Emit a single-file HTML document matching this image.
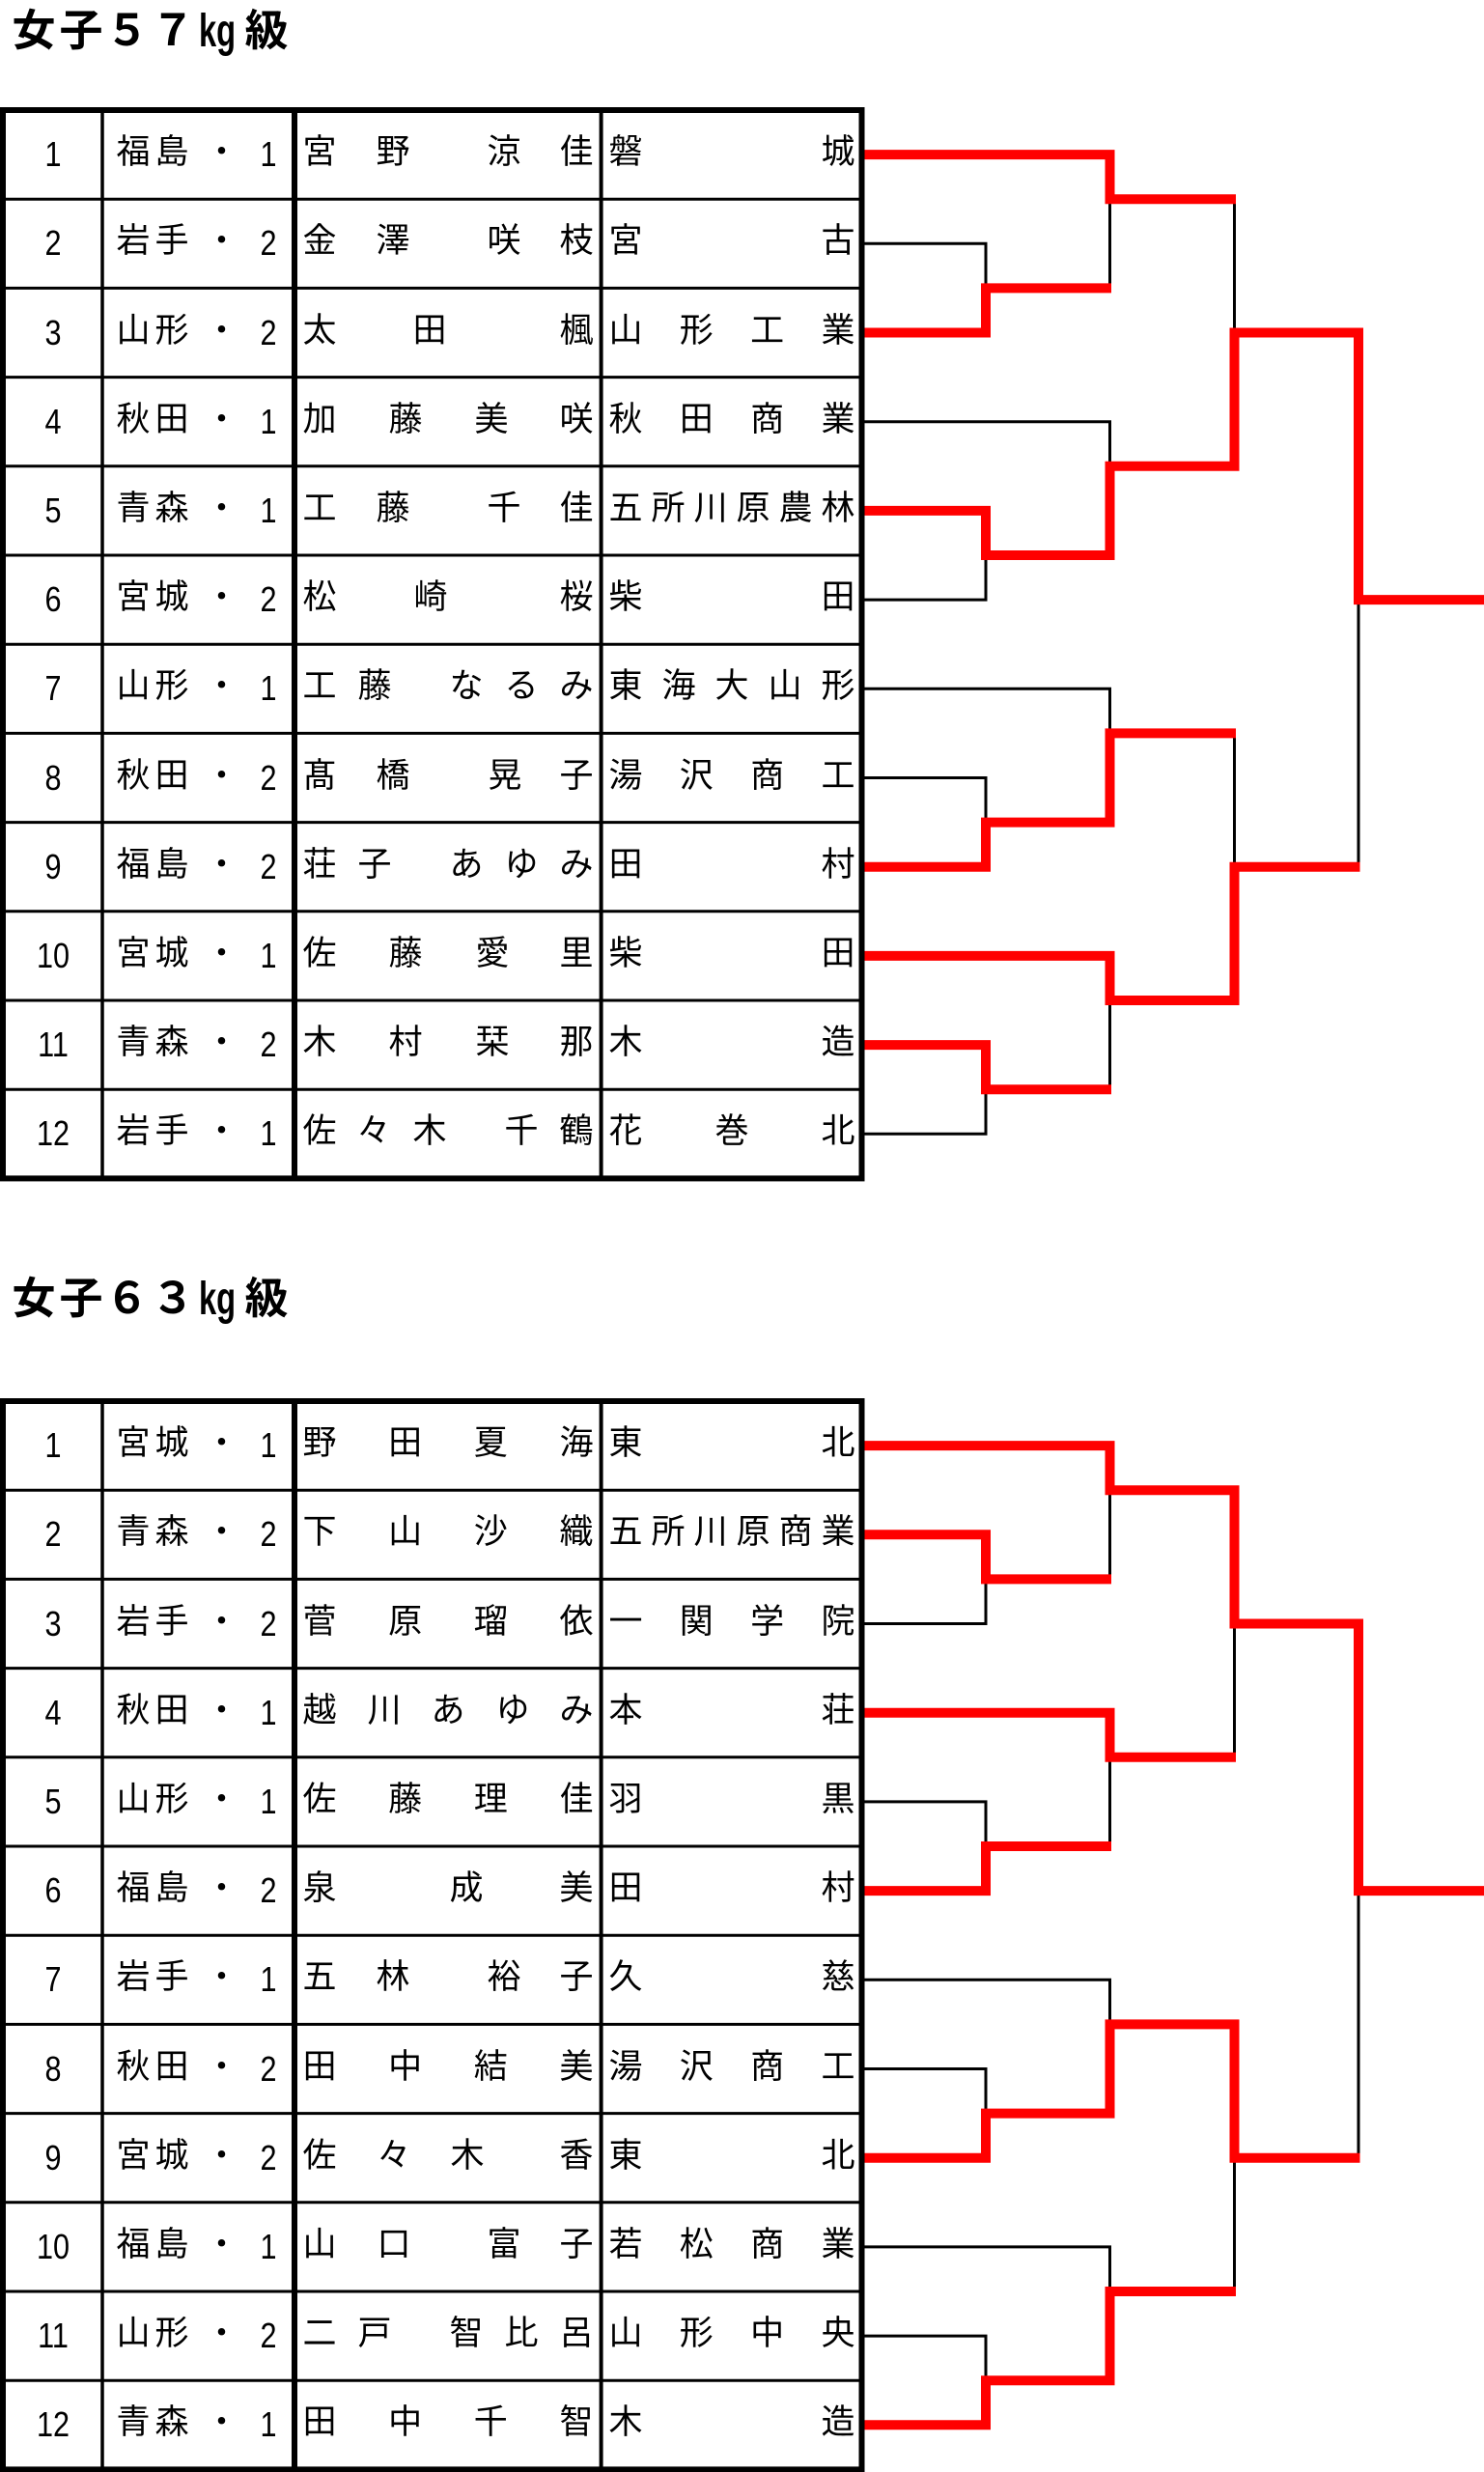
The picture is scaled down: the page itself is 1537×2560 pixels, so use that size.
<!DOCTYPE html>
<html><head><meta charset="utf-8">
<style>
html,body{margin:0;padding:0;background:#fff}
body{width:1537px;height:2560px;position:relative;overflow:hidden}
svg{position:absolute;left:0;top:0}
.r{position:absolute;left:0;width:900px;height:44px}
.r span{position:absolute;top:-2px;width:50px;margin-left:-25px;text-align:center;font-size:35px;line-height:44px;font-family:"Liberation Sans","Noto Sans CJK JP",sans-serif;color:#000}
.r span.n{top:0;font-size:36px;width:60px;margin-left:-30px;font-family:"Liberation Sans",sans-serif;transform:scaleX(.85)}
.t{position:absolute;width:60px;margin-left:-30px;text-align:center;font-size:45px;line-height:50px;font-weight:bold;font-family:"Liberation Sans","Noto Sans CJK JP",sans-serif;color:#000}
.kg{position:absolute;font-size:48px;line-height:50px;font-weight:bold;font-family:"Liberation Sans",sans-serif;color:#000;transform:scaleX(.68);transform-origin:0 0;white-space:nowrap}
</style></head><body>

<svg width="1537" height="2560" viewBox="0 0 1537 2560">
<!-- Bracket 1 -->
<g transform="translate(0,114)" fill="none" stroke-linejoin="miter" stroke-linecap="butt">
 <g stroke="#000" stroke-width="3">
  <path d="M893 138.3H1021V184.4"/>
  <path d="M1149.5 92.2V184.4"/>
  <path d="M893 322.7H1149.5V368.8"/>
  <path d="M893 507.1H1021V461"/>
  <path d="M1278.5 92.2V230.5"/>
  <path d="M1407 507.1V783.7"/>
  <path d="M893 599.3H1149.5V645.4"/>
  <path d="M893 691.5H1021V737.6"/>
  <path d="M1278.5 645.4V783.7"/>
  <path d="M1149.5 922V1014.2"/>
  <path d="M893 1060.3H1021V1014.2"/>
 </g>
 <g stroke="#ff0000" stroke-width="10">
  <path d="M895 46.1H1149.5V92.2H1280"/>
  <path d="M895 230.5H1021V184.4H1151"/>
  <path d="M895 414.9H1021V461H1149.5V368.8H1278.5V230.5H1407V507.1H1537"/>
  <path d="M895 783.7H1021V737.6H1149.5V645.4H1280"/>
  <path d="M895 875.9H1149.5V922H1278.5V783.7H1408.5"/>
  <path d="M895 968.1H1021V1014.2H1151"/>
 </g>
</g>
<!-- Bracket 2 -->
<g transform="translate(0,1451)" fill="none" stroke-linejoin="miter" stroke-linecap="butt">
 <g stroke="#000" stroke-width="3">
  <path d="M893 230.5H1021V184.4"/>
  <path d="M1149.5 92.2V184.4"/>
  <path d="M893 414.9H1021V461"/>
  <path d="M1149.5 368.8V461"/>
  <path d="M1278.5 230.5V368.8"/>
  <path d="M1407 507.1V783.7"/>
  <path d="M893 599.3H1149.5V645.4"/>
  <path d="M893 691.5H1021V737.6"/>
  <path d="M1278.5 783.7V922"/>
  <path d="M893 875.9H1149.5V922"/>
  <path d="M893 968.1H1021V1014.2"/>
 </g>
 <g stroke="#ff0000" stroke-width="10">
  <path d="M895 46.1H1149.5V92.2H1278.5V230.5H1407V507.1H1537"/>
  <path d="M895 138.3H1021V184.4H1151"/>
  <path d="M895 322.7H1149.5V368.8H1280"/>
  <path d="M895 507.1H1021V461H1151"/>
  <path d="M895 783.7H1021V737.6H1149.5V645.4H1278.5V783.7H1408.5"/>
  <path d="M895 1060.3H1021V1014.2H1149.5V922H1280"/>
 </g>
</g>
<!-- Table 1 -->
<g transform="translate(0,114)" fill="none" stroke="#000">
 <g stroke-width="3">
  <path d="M3 92.2H892M3 184.4H892M3 276.6H892M3 368.8H892M3 461H892M3 553.2H892M3 645.4H892M3 737.6H892M3 829.8H892M3 922H892M3 1014.2H892"/>
 </g>
 <path d="M106 0V1106.4" stroke-width="3.5"/>
 <path d="M622.6 0V1106.4" stroke-width="4"/>
 <path d="M305 0V1106.4" stroke-width="6"/>
 <rect x="3" y="0" width="889.5" height="1106.4" stroke-width="6"/>
</g>
<!-- Table 2 -->
<g transform="translate(0,1451)" fill="none" stroke="#000">
 <g stroke-width="3">
  <path d="M3 92.2H892M3 184.4H892M3 276.6H892M3 368.8H892M3 461H892M3 553.2H892M3 645.4H892M3 737.6H892M3 829.8H892M3 922H892M3 1014.2H892"/>
 </g>
 <path d="M106 0V1106.4" stroke-width="3.5"/>
 <path d="M622.6 0V1106.4" stroke-width="4"/>
 <path d="M305 0V1106.4" stroke-width="6"/>
 <rect x="3" y="0" width="889.5" height="1106.4" stroke-width="6"/>
</g>
</svg>

<!-- Titles -->
<span class="t" style="left:35px;top:6.5px">女</span>
<span class="t" style="left:84px;top:6.5px">子</span>
<span class="t" style="left:131.5px;top:6.5px">５</span>
<span class="t" style="left:179px;top:6.5px">７</span>
<span class="kg" style="left:206px;top:8.4px">kg</span>
<span class="t" style="left:276px;top:6.5px">級</span>

<span class="t" style="left:35px;top:1319.5px">女</span>
<span class="t" style="left:84px;top:1319.5px">子</span>
<span class="t" style="left:131.5px;top:1319.5px">６</span>
<span class="t" style="left:179px;top:1319.5px">３</span>
<span class="kg" style="left:206px;top:1321.4px">kg</span>
<span class="t" style="left:276px;top:1319.5px">級</span>

<!-- Table 1 rows -->
<div class="r" style="top:138px"><span class="n" style="left:55px">1</span><span style="left:138px">福</span><span style="left:178px">島</span><span style="left:229.5px">・</span><span class="n" style="left:277.5px">1</span><span style="left:331px">宮</span><span style="left:407px">野</span><span style="left:522px">涼</span><span style="left:597px">佳</span><span style="left:648px">磐</span><span style="left:868px">城</span></div>
<div class="r" style="top:230px"><span class="n" style="left:55px">2</span><span style="left:138px">岩</span><span style="left:178px">手</span><span style="left:229.5px">・</span><span class="n" style="left:277.5px">2</span><span style="left:331px">金</span><span style="left:407px">澤</span><span style="left:522px">咲</span><span style="left:597px">枝</span><span style="left:648px">宮</span><span style="left:868px">古</span></div>
<div class="r" style="top:323px"><span class="n" style="left:55px">3</span><span style="left:138px">山</span><span style="left:178px">形</span><span style="left:229.5px">・</span><span class="n" style="left:277.5px">2</span><span style="left:331px">太</span><span style="left:445px">田</span><span style="left:597px">楓</span><span style="left:648px">山</span><span style="left:721.3px">形</span><span style="left:794.7px">工</span><span style="left:868px">業</span></div>
<div class="r" style="top:415px"><span class="n" style="left:55px">4</span><span style="left:138px">秋</span><span style="left:178px">田</span><span style="left:229.5px">・</span><span class="n" style="left:277.5px">1</span><span style="left:331px">加</span><span style="left:420px">藤</span><span style="left:509px">美</span><span style="left:597px">咲</span><span style="left:648px">秋</span><span style="left:721.3px">田</span><span style="left:794.7px">商</span><span style="left:868px">業</span></div>
<div class="r" style="top:507px"><span class="n" style="left:55px">5</span><span style="left:138px">青</span><span style="left:178px">森</span><span style="left:229.5px">・</span><span class="n" style="left:277.5px">1</span><span style="left:331px">工</span><span style="left:407px">藤</span><span style="left:522px">千</span><span style="left:597px">佳</span><span style="left:648px">五</span><span style="left:692px">所</span><span style="left:736px">川</span><span style="left:780px">原</span><span style="left:824px">農</span><span style="left:868px">林</span></div>
<div class="r" style="top:599px"><span class="n" style="left:55px">6</span><span style="left:138px">宮</span><span style="left:178px">城</span><span style="left:229.5px">・</span><span class="n" style="left:277.5px">2</span><span style="left:331px">松</span><span style="left:446px">崎</span><span style="left:597px">桜</span><span style="left:648px">柴</span><span style="left:868px">田</span></div>
<div class="r" style="top:691px"><span class="n" style="left:55px">7</span><span style="left:138px">山</span><span style="left:178px">形</span><span style="left:229.5px">・</span><span class="n" style="left:277.5px">1</span><span style="left:331px">工</span><span style="left:388px">藤</span><span style="left:483px">な</span><span style="left:540px">る</span><span style="left:597px">み</span><span style="left:648px">東</span><span style="left:703px">海</span><span style="left:758px">大</span><span style="left:813px">山</span><span style="left:868px">形</span></div>
<div class="r" style="top:784px"><span class="n" style="left:55px">8</span><span style="left:138px">秋</span><span style="left:178px">田</span><span style="left:229.5px">・</span><span class="n" style="left:277.5px">2</span><span style="left:331px">髙</span><span style="left:407px">橋</span><span style="left:523px">晃</span><span style="left:597px">子</span><span style="left:648px">湯</span><span style="left:721.3px">沢</span><span style="left:794.7px">商</span><span style="left:868px">工</span></div>
<div class="r" style="top:876px"><span class="n" style="left:55px">9</span><span style="left:138px">福</span><span style="left:178px">島</span><span style="left:229.5px">・</span><span class="n" style="left:277.5px">2</span><span style="left:331px">荘</span><span style="left:388px">子</span><span style="left:483px">あ</span><span style="left:540px">ゆ</span><span style="left:597px">み</span><span style="left:648px">田</span><span style="left:868px">村</span></div>
<div class="r" style="top:968px"><span class="n" style="left:55px">10</span><span style="left:138px">宮</span><span style="left:178px">城</span><span style="left:229.5px">・</span><span class="n" style="left:277.5px">1</span><span style="left:331px">佐</span><span style="left:420px">藤</span><span style="left:510px">愛</span><span style="left:597px">里</span><span style="left:648px">柴</span><span style="left:868px">田</span></div>
<div class="r" style="top:1060px"><span class="n" style="left:55px">11</span><span style="left:138px">青</span><span style="left:178px">森</span><span style="left:229.5px">・</span><span class="n" style="left:277.5px">2</span><span style="left:331px">木</span><span style="left:420px">村</span><span style="left:510px">栞</span><span style="left:597px">那</span><span style="left:648px">木</span><span style="left:868px">造</span></div>
<div class="r" style="top:1152px"><span class="n" style="left:55px">12</span><span style="left:138px">岩</span><span style="left:178px">手</span><span style="left:229.5px">・</span><span class="n" style="left:277.5px">1</span><span style="left:331px">佐</span><span style="left:387px">々</span><span style="left:445px">木</span><span style="left:540px">千</span><span style="left:597px">鶴</span><span style="left:648px">花</span><span style="left:758px">巻</span><span style="left:868px">北</span></div>

<!-- Table 2 rows -->
<div class="r" style="top:1475px"><span class="n" style="left:55px">1</span><span style="left:138px">宮</span><span style="left:178px">城</span><span style="left:229.5px">・</span><span class="n" style="left:277.5px">1</span><span style="left:331px">野</span><span style="left:419.7px">田</span><span style="left:508.3px">夏</span><span style="left:597px">海</span><span style="left:648px">東</span><span style="left:868px">北</span></div>
<div class="r" style="top:1567px"><span class="n" style="left:55px">2</span><span style="left:138px">青</span><span style="left:178px">森</span><span style="left:229.5px">・</span><span class="n" style="left:277.5px">2</span><span style="left:331px">下</span><span style="left:419.7px">山</span><span style="left:508.3px">沙</span><span style="left:597px">織</span><span style="left:648px">五</span><span style="left:692px">所</span><span style="left:736px">川</span><span style="left:780px">原</span><span style="left:824px">商</span><span style="left:868px">業</span></div>
<div class="r" style="top:1660px"><span class="n" style="left:55px">3</span><span style="left:138px">岩</span><span style="left:178px">手</span><span style="left:229.5px">・</span><span class="n" style="left:277.5px">2</span><span style="left:331px">菅</span><span style="left:419.7px">原</span><span style="left:508.3px">瑠</span><span style="left:597px">依</span><span style="left:648px">一</span><span style="left:721.3px">関</span><span style="left:794.7px">学</span><span style="left:868px">院</span></div>
<div class="r" style="top:1752px"><span class="n" style="left:55px">4</span><span style="left:138px">秋</span><span style="left:178px">田</span><span style="left:229.5px">・</span><span class="n" style="left:277.5px">1</span><span style="left:331px">越</span><span style="left:398px">川</span><span style="left:464px">あ</span><span style="left:531px">ゆ</span><span style="left:597px">み</span><span style="left:648px">本</span><span style="left:868px">荘</span></div>
<div class="r" style="top:1844px"><span class="n" style="left:55px">5</span><span style="left:138px">山</span><span style="left:178px">形</span><span style="left:229.5px">・</span><span class="n" style="left:277.5px">1</span><span style="left:331px">佐</span><span style="left:419.7px">藤</span><span style="left:508.3px">理</span><span style="left:597px">佳</span><span style="left:648px">羽</span><span style="left:868px">黒</span></div>
<div class="r" style="top:1936px"><span class="n" style="left:55px">6</span><span style="left:138px">福</span><span style="left:178px">島</span><span style="left:229.5px">・</span><span class="n" style="left:277.5px">2</span><span style="left:331px">泉</span><span style="left:483px">成</span><span style="left:597px">美</span><span style="left:648px">田</span><span style="left:868px">村</span></div>
<div class="r" style="top:2028px"><span class="n" style="left:55px">7</span><span style="left:138px">岩</span><span style="left:178px">手</span><span style="left:229.5px">・</span><span class="n" style="left:277.5px">1</span><span style="left:331px">五</span><span style="left:407px">林</span><span style="left:522px">裕</span><span style="left:597px">子</span><span style="left:648px">久</span><span style="left:868px">慈</span></div>
<div class="r" style="top:2121px"><span class="n" style="left:55px">8</span><span style="left:138px">秋</span><span style="left:178px">田</span><span style="left:229.5px">・</span><span class="n" style="left:277.5px">2</span><span style="left:331px">田</span><span style="left:419.7px">中</span><span style="left:508.3px">結</span><span style="left:597px">美</span><span style="left:648px">湯</span><span style="left:721.3px">沢</span><span style="left:794.7px">商</span><span style="left:868px">工</span></div>
<div class="r" style="top:2213px"><span class="n" style="left:55px">9</span><span style="left:138px">宮</span><span style="left:178px">城</span><span style="left:229.5px">・</span><span class="n" style="left:277.5px">2</span><span style="left:331px">佐</span><span style="left:408px">々</span><span style="left:484px">木</span><span style="left:597px">香</span><span style="left:648px">東</span><span style="left:868px">北</span></div>
<div class="r" style="top:2305px"><span class="n" style="left:55px">10</span><span style="left:138px">福</span><span style="left:178px">島</span><span style="left:229.5px">・</span><span class="n" style="left:277.5px">1</span><span style="left:331px">山</span><span style="left:408px">口</span><span style="left:522px">富</span><span style="left:597px">子</span><span style="left:648px">若</span><span style="left:721.3px">松</span><span style="left:794.7px">商</span><span style="left:868px">業</span></div>
<div class="r" style="top:2397px"><span class="n" style="left:55px">11</span><span style="left:138px">山</span><span style="left:178px">形</span><span style="left:229.5px">・</span><span class="n" style="left:277.5px">2</span><span style="left:331px">二</span><span style="left:388px">戸</span><span style="left:483px">智</span><span style="left:540px">比</span><span style="left:597px">呂</span><span style="left:648px">山</span><span style="left:721.3px">形</span><span style="left:794.7px">中</span><span style="left:868px">央</span></div>
<div class="r" style="top:2489px"><span class="n" style="left:55px">12</span><span style="left:138px">青</span><span style="left:178px">森</span><span style="left:229.5px">・</span><span class="n" style="left:277.5px">1</span><span style="left:331px">田</span><span style="left:419.7px">中</span><span style="left:508.3px">千</span><span style="left:597px">智</span><span style="left:648px">木</span><span style="left:868px">造</span></div>

</body></html>
